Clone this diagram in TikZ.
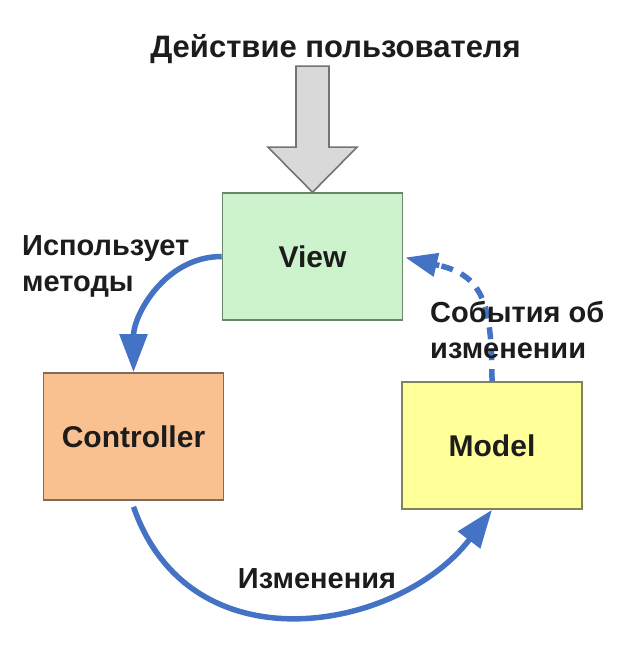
\documentclass[tikz,border=0pt]{standalone}
\usepackage{fontspec}
\setmainfont{Liberation Sans}
\usetikzlibrary{arrows.meta, positioning, calc}

\definecolor{viewfill}{RGB}{204,243,204}
\definecolor{viewline}{RGB}{104,134,104}
\definecolor{ctrlfill}{RGB}{249,192,144}
\definecolor{ctrlline}{RGB}{128,108,90}
\definecolor{modelfill}{RGB}{255,255,153}
\definecolor{modelline}{RGB}{130,130,92}
\definecolor{mvcblue}{RGB}{68,114,196}
\definecolor{inkdark}{RGB}{28,28,28}

\begin{document}
\begin{tikzpicture}[x=1pt, y=-1pt,
    box/.style={draw, line width=1.6pt, minimum width=180pt, minimum height=127pt,
        font=\fontsize{30}{36}\selectfont\bfseries, text=inkdark},
    note/.style={font=\fontsize{29}{36}\selectfont\bfseries, text=inkdark,
        align=left, inner sep=0pt},
    flow/.style={draw=mvcblue, line width=5.5pt, -{Triangle[length=38pt,width=27pt]}},
    userarrow/.style={draw=black!55, fill=black!15, line width=1.6pt, line join=miter}]
    \useasboundingbox (0,0) rectangle (616,647);
    \fill[white] (0,0) rectangle (616,647);

    \node[box, fill=viewfill, draw=viewline] (view) at (312.5,256.5) {View};
    \node[box, fill=ctrlfill, draw=ctrlline] (ctrl) at (133.5,436.5) {Controller};
    \node[box, fill=modelfill, draw=modelline] (model) at (492,445.5) {Model};

    \node[note, font=\fontsize{31}{36}\selectfont\bfseries, anchor=base] (action)
        at (335.5,58) {Действие пользователя};

    % user input arrow
    \draw[userarrow] ($(view.north)+(-16.5,-126)$) -- ($(view.north)+(16.5,-126)$)
        -- ($(view.north)+(16.5,-45)$) -- ($(view.north)+(44.5,-45)$) -- (view.north)
        -- ($(view.north)+(-44.5,-45)$) -- ($(view.north)+(-16.5,-45)$) -- cycle;

    \draw[flow] (view.west) to[out=180, in=90] (ctrl.north);
    \draw[flow] ($(ctrl.south)+(0,6)$) .. controls +(57,164) and +(-92,121) .. (model.south);
    % change events, dashed with a solid tip
    \coordinate (evtip) at ($(view.east)+(2,1)$);
    \draw[flow, -, dash pattern=on 12pt off 9pt]
        (model.north) .. controls +(0,-82) and +(46,10) .. ($(evtip)+(30,7)$);
    \draw[flow, -{Triangle[length=32pt,width=23pt]}] ($(evtip)+(34,8)$) -- (evtip);

    \node[note, anchor=base west] (uses) at (22,291) {Использует\\методы};
    \node[note, anchor=base west] (events) at (430,358) {События об\\изменении};
    \node[note, anchor=base] (changes) at (317,588) {Изменения};
\end{tikzpicture}
\end{document}
